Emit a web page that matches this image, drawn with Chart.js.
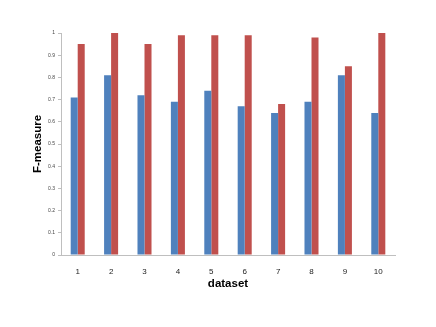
<!DOCTYPE html>
<html>
<head>
<meta charset="utf-8">
<script src="https://cdn.jsdelivr.net/npm/chart.js@4"></script>
<style>
  html, body { margin: 0; padding: 0; background: #ffffff; }
  #wrap { width: 436px; height: 327px; position: relative; }
</style>
</head>
<body>
<div id="wrap"><canvas id="c" width="436" height="327"></canvas></div>
<script>
const categories = ['1', '2', '3', '4', '5', '6', '7', '8', '9', '10'];
const seriesBlue = [0.71, 0.81, 0.72, 0.69, 0.74, 0.67, 0.64, 0.69, 0.81, 0.64];
const seriesRed  = [0.95, 1.00, 0.95, 0.99, 0.99, 0.99, 0.68, 0.98, 0.85, 1.00];
const yTicks = [0, 0.1, 0.2, 0.3, 0.4, 0.5, 0.6, 0.7, 0.8, 0.9, 1];

const font = "'Liberation Sans', Arial, sans-serif";

new Chart(document.getElementById('c'), {
  type: 'bar',
  data: {
    labels: categories,
    datasets: [
      { label: 'A', data: seriesBlue, backgroundColor: '#4F81BD', categoryPercentage: 0.42, barPercentage: 1.0 },
      { label: 'B', data: seriesRed, backgroundColor: '#C0504D', categoryPercentage: 0.42, barPercentage: 1.0 }
    ]
  },
  options: {
    responsive: false,
    animation: false,
    devicePixelRatio: 1,
    layout: { padding: { left: 0, right: 41, top: 33, bottom: 0 } },
    plugins: { legend: { display: false }, tooltip: { enabled: false } },
    scales: {
      x: {
        grid: { display: false },
        border: { display: true, color: '#bfbfbf', width: 1 },
        ticks: { color: '#222', font: { family: font, size: 8 }, padding: 4, maxRotation: 0 },
        title: { display: true, text: 'dataset', color: '#000', font: { family: font, size: 11.5, weight: 'bold' }, padding: { top: 36, bottom: 36 } },
        afterFit: (s) => { s.height = 72; }
      },
      y: {
        min: 0, max: 1,
        afterBuildTicks: (s) => { s.ticks = yTicks.map(v => ({ value: v })); },
        grid: { display: true, drawOnChartArea: false, drawTicks: true, tickLength: 3, color: '#bfbfbf' },
        border: { display: true, color: '#bfbfbf', width: 1 },
        ticks: { color: '#444', font: { family: font, size: 5 }, padding: 3, callback: (v) => String(v) },
        title: { display: true, text: 'F-measure', color: '#000', font: { family: font, size: 11.5, weight: 'bold' }, padding: { top: 31, bottom: 31 } },
        afterFit: (s) => { s.width = 61; }
      }
    }
  }
});
</script>
</body>
</html>
